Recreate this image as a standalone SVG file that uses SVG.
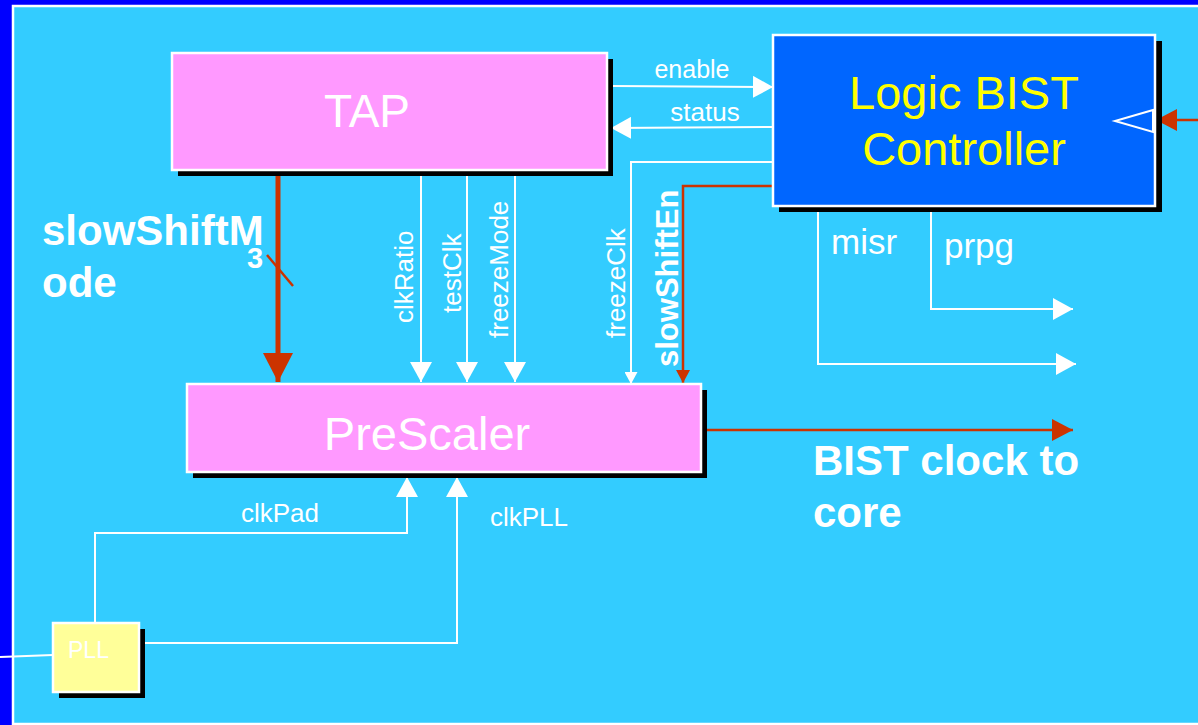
<svg xmlns="http://www.w3.org/2000/svg" width="1198" height="725" viewBox="0 0 1198 725">
  <style>
    .lbl { font-family: "Liberation Sans", Arial, sans-serif; fill: #FFFFFF; }
    .bold { font-weight: bold; }
    .w { stroke: #FFFFFF; stroke-width: 2; fill: none; }
    .r { stroke: #CC3300; stroke-width: 2.5; fill: none; }
    .shadow { fill: #000000; }
    .frame { stroke: #FFFFFF; stroke-width: 2.5; }
  </style>
  <defs>
    <marker id="aw" markerUnits="userSpaceOnUse" markerWidth="20" markerHeight="22" refX="20" refY="11" orient="auto">
      <path d="M0,0 L20,11 L0,22 z" fill="#FFFFFF"/>
    </marker>
    <marker id="aws" markerUnits="userSpaceOnUse" markerWidth="12" markerHeight="13" refX="12" refY="6.5" orient="auto">
      <path d="M0,0 L12,6.5 L0,13 z" fill="#FFFFFF"/>
    </marker>
    <marker id="ar" markerUnits="userSpaceOnUse" markerWidth="21" markerHeight="22" refX="21" refY="11" orient="auto">
      <path d="M0,0 L21,11 L0,22 z" fill="#CC3300"/>
    </marker>
    <marker id="ars" markerUnits="userSpaceOnUse" markerWidth="13" markerHeight="14" refX="13" refY="7" orient="auto">
      <path d="M0,0 L13,7 L0,14 z" fill="#CC3300"/>
    </marker>
    <marker id="arb" markerUnits="userSpaceOnUse" markerWidth="29" markerHeight="30" refX="29" refY="15" orient="auto">
      <path d="M0,0 L29,15 L0,30 z" fill="#CC3300"/>
    </marker>
  </defs>

  <!-- slide background -->
  <rect x="0" y="0" width="1198" height="725" fill="#0000FF"/>
  <rect x="13" y="6" width="1190" height="718" fill="#33CCFF" stroke="#FFFFFF" stroke-width="2.5"/>

  <!-- connectors -->
  <g id="connectors">
    <!-- TAP <-> controller -->
    <line class="w" x1="613" y1="86" x2="773" y2="87" marker-end="url(#aw)"/>
    <line class="w" x1="773" y1="127" x2="611" y2="128" marker-end="url(#aw)"/>
    <!-- TAP -> PreScaler -->
    <line class="w" x1="421" y1="176" x2="421" y2="382" marker-end="url(#aw)"/>
    <line class="w" x1="467" y1="170" x2="467" y2="382" marker-end="url(#aw)"/>
    <line class="w" x1="515" y1="174" x2="515" y2="382" marker-end="url(#aw)"/>
    <!-- controller -> PreScaler -->
    <polyline class="w" points="773,162 631,162 631,384" marker-end="url(#aws)"/>
    <polyline class="r" points="773,186 683,186 683,383" marker-end="url(#ars)"/>
    <!-- slowShiftMode bus (3 bits) -->
    <line x1="278" y1="170" x2="278" y2="382" stroke="#CC3300" stroke-width="5" marker-end="url(#arb)"/>
    <line x1="267" y1="255" x2="293" y2="286" stroke="#CC3300" stroke-width="2.5"/>
    <!-- controller outputs -->
    <polyline class="w" points="931,207 931,309 1073,309" marker-end="url(#aw)"/>
    <polyline class="w" points="818,207 818,364 1076,364" marker-end="url(#aw)"/>
    <!-- external clock into controller -->
    <line class="r" x1="1198" y1="120" x2="1156" y2="120" marker-end="url(#ar)"/>
    <!-- BIST clock out -->
    <line class="r" x1="706" y1="430" x2="1073" y2="430" marker-end="url(#ar)"/>
    <!-- clocks into PreScaler -->
    <polyline class="w" points="95,623 95,533 407,533 407,477" marker-end="url(#aw)"/>
    <polyline class="w" points="140,643 457,643 457,477" marker-end="url(#aw)"/>
    <!-- pad into PLL -->
    <line class="w" x1="0" y1="657" x2="53" y2="655"/>
  </g>

  <!-- TAP -->
  <g id="tap">
    <rect class="shadow" x="178" y="59" width="435" height="117"/>
    <rect class="frame" x="172" y="53" width="435" height="117" fill="#FF99FF"/>
    <text class="lbl" x="367" y="127" font-size="46" text-anchor="middle">TAP</text>
  </g>

  <!-- Logic BIST Controller -->
  <g id="controller">
    <rect class="shadow" x="779" y="41" width="383" height="171"/>
    <rect class="frame" x="773" y="35" width="382" height="171" fill="#0066FF"/>
    <polygon points="1153,110 1115,121 1153,132" fill="none" stroke="#FFFFFF" stroke-width="2"/>
    <text x="964" y="109" font-family="'Liberation Sans', Arial, sans-serif" font-size="47" fill="#FFFF00" text-anchor="middle">Logic BIST</text>
    <text x="964" y="165" font-family="'Liberation Sans', Arial, sans-serif" font-size="47" fill="#FFFF00" text-anchor="middle">Controller</text>
  </g>

  <!-- PreScaler -->
  <g id="prescaler">
    <rect class="shadow" x="193" y="390" width="514" height="88"/>
    <rect class="frame" x="187" y="384" width="514" height="88" fill="#FF99FF"/>
    <text class="lbl" x="427" y="450" font-size="47" text-anchor="middle">PreScaler</text>
  </g>

  <!-- PLL -->
  <g id="pll">
    <rect class="shadow" x="59" y="629" width="86" height="69"/>
    <rect class="frame" x="53" y="623" width="86" height="69" fill="#FFFF99"/>
    <text class="lbl" x="68" y="658" font-size="23">PLL</text>
  </g>

  <!-- signal labels -->
  <g id="labels">
    <text class="lbl" x="692" y="78" font-size="25" text-anchor="middle">enable</text>
    <text class="lbl" x="705" y="121" font-size="26" text-anchor="middle">status</text>
    <text class="lbl" transform="translate(413,323) rotate(-90)" font-size="26">clkRatio</text>
    <text class="lbl" transform="translate(461,313) rotate(-90)" font-size="26">testClk</text>
    <text class="lbl" transform="translate(508,338) rotate(-90)" font-size="26">freezeMode</text>
    <text class="lbl" transform="translate(625,338) rotate(-90)" font-size="26">freezeClk</text>
    <text class="lbl bold" transform="translate(678,367) rotate(-90)" font-size="31">slowShiftEn</text>
    <text class="lbl bold" x="42" y="245" font-size="42">slowShiftM</text>
    <text class="lbl bold" x="42" y="297" font-size="42">ode</text>
    <text class="lbl bold" x="255" y="268" font-size="29" text-anchor="middle">3</text>
    <text class="lbl" x="831" y="254" font-size="35">misr</text>
    <text class="lbl" x="944" y="258" font-size="35">prpg</text>
    <text class="lbl bold" x="813" y="475" font-size="42">BIST clock to</text>
    <text class="lbl bold" x="813" y="527" font-size="42">core</text>
    <text class="lbl" x="241" y="522" font-size="26">clkPad</text>
    <text class="lbl" x="490" y="526" font-size="26">clkPLL</text>
  </g>
</svg>
